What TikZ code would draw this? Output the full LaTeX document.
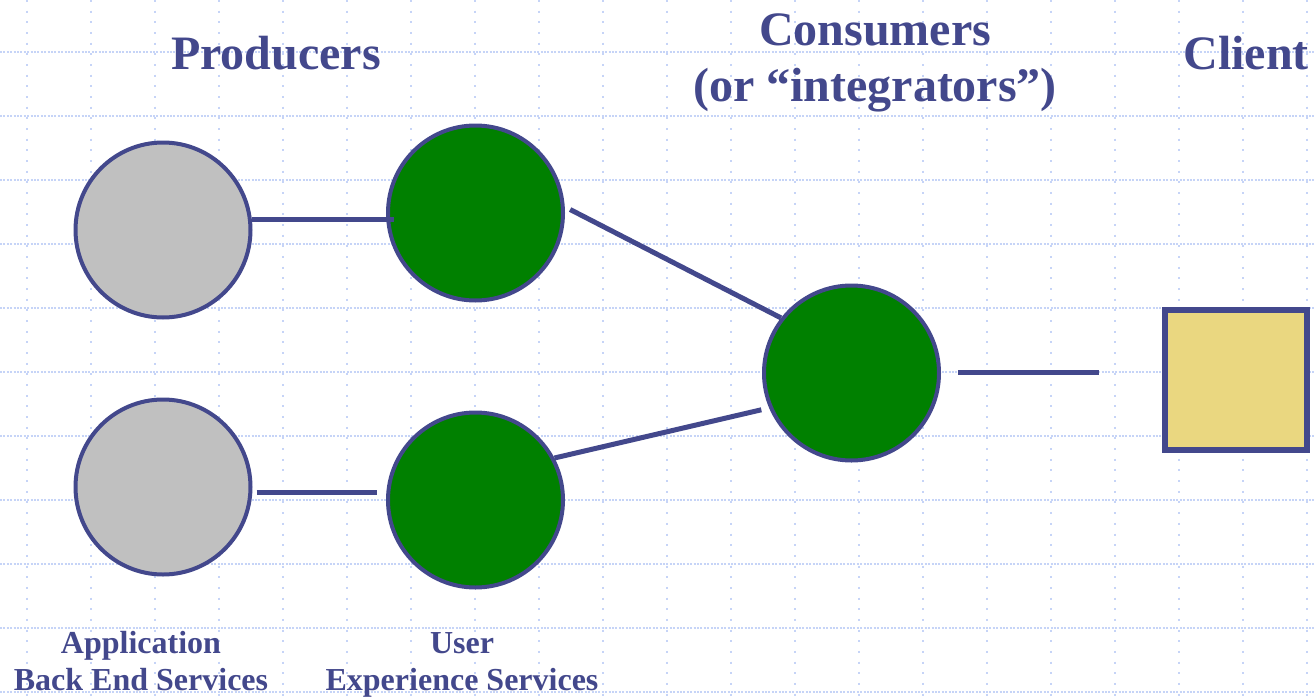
\documentclass[tikz,border=0pt]{standalone}
\usepackage{fontspec}
\setmainfont{Liberation Serif}
\definecolor{navy}{RGB}{67,72,140}
\definecolor{gridblue}{RGB}{198,212,247}
\definecolor{leafgreen}{RGB}{0,128,0}
\definecolor{softgray}{RGB}{192,192,192}
\definecolor{sand}{RGB}{234,215,128}
\begin{document}
\begin{tikzpicture}[x=1pt,y=-1pt,
  vgrid/.style={gridblue,line width=2pt,dash pattern=on 2pt off 8.67pt},
  hgrid/.style={gridblue,line width=2pt,dash pattern=on 2pt off 1.4pt},
  ball/.style={circle,draw=navy,line width=4pt,minimum size=175pt,inner sep=0pt},
  backend/.style={ball,fill=softgray},
  uxsvc/.style={ball,fill=leafgreen},
  clientbox/.style={rectangle,draw=navy,fill=sand,line width=6pt,minimum width=142pt,minimum height=140pt,inner sep=0pt},
  conn/.style={navy,line width=5pt},
  title/.style={text=navy,font=\bfseries\fontsize{48}{57}\selectfont,anchor=base,inner sep=0pt},
  caption/.style={text=navy,font=\bfseries\fontsize{32}{37}\selectfont,align=center,inner sep=0pt}]
\useasboundingbox (0,0) rectangle (1315,699);
\fill[white] (0,0) rectangle (1315,699);
% background grid
\foreach \gx in {27,91,...,1315} \draw[vgrid] (\gx,0) -- (\gx,699);
\foreach \gy in {52,116,...,699} \draw[hgrid] (0,\gy) -- (1315,\gy);

% nodes
\node[backend] (g1) at (163,230) {};
\node[backend] (g2) at (163,487) {};
\node[uxsvc] (e1) at (475.5,213) {};
\node[uxsvc] (e2) at (475.5,500) {};
\node[uxsvc] (c) at (851.5,373) {};
\node[clientbox] (cl) at (1236,380) {};

% connectors
\draw[conn] (g1.7) -- ([xshift=8pt]e1.west |- g1.7);
\draw[conn,shorten <=4pt,shorten >=9pt] ([yshift=-5pt]g2.east) -- ([yshift=-5pt]g2.east -| e2.west);
\draw[conn,shorten <=6pt] (e1.4) -- (c.142);
\draw[conn,shorten >=8pt] (e2.28) -- (c.203);
\draw[conn,shorten <=17pt,shorten >=63pt] ([yshift=1pt]c.east) -- ([yshift=1pt]c.east -| cl.west);

% titles
\node[title] (tp) at (276,69) {Producers};
\node[title] (tc1) at (875,45) {Consumers};
\node[title] (tc2) at (875,101) {(or “integrators”)};
\node[title] (tcl) at (1246,69) {Client};

% captions
\node[caption,anchor=base] (la) at (141,690) {Application\\Back End Services};
\node[caption,anchor=base] (lu) at (462,690) {User\\Experience Services};
\end{tikzpicture}
\end{document}
